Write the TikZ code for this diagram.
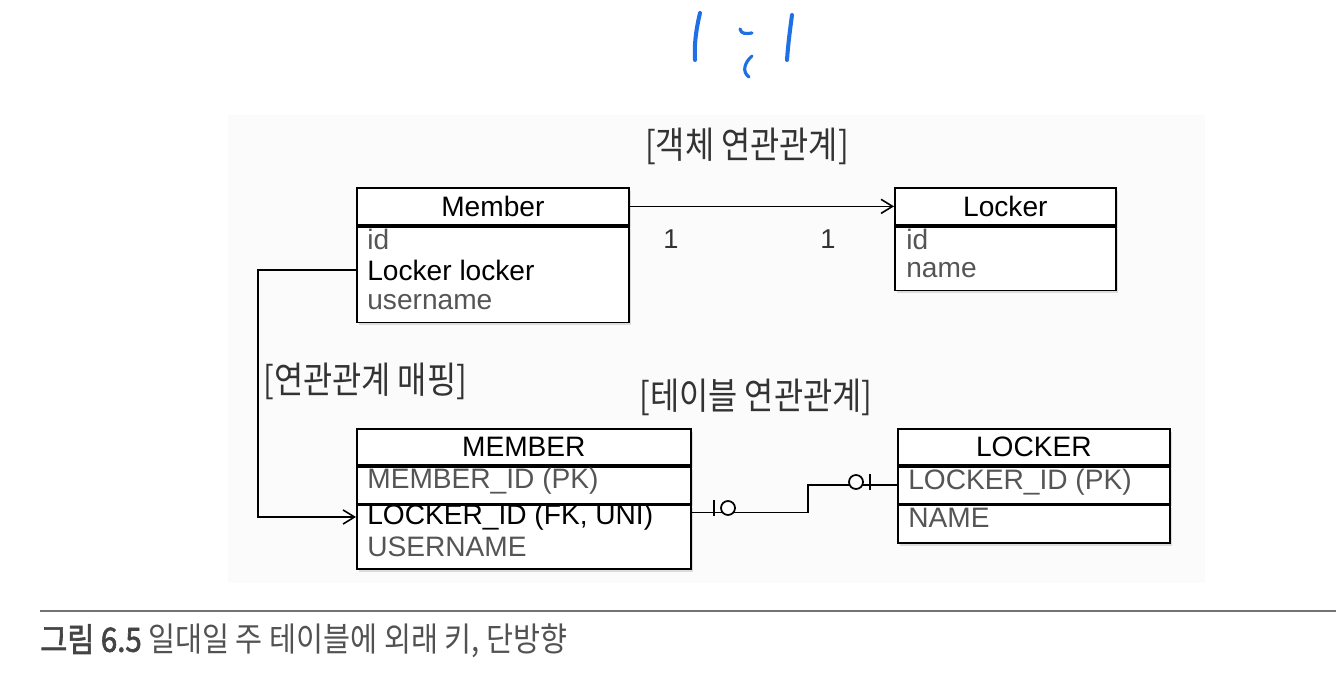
\documentclass[tikz,border=0pt]{standalone}
\usepackage{fontspec}
\setmainfont{Liberation Sans}
\newfontfamily\krfont[FakeStretch=0.86]{Noto Sans CJK KR}
\newfontfamily\krbold[FakeStretch=0.88,FakeBold=2]{Noto Sans CJK KR}
\newfontfamily\krcap[FakeStretch=0.88]{Noto Sans CJK KR}
\usetikzlibrary{arrows.meta,positioning,shadows}
\definecolor{rowgray}{HTML}{555555}
\definecolor{penblue}{HTML}{1F6FE5}
\definecolor{capgray}{HTML}{444444}

\begin{document}
\begin{tikzpicture}[x=0.02cm, y=-0.02cm,
  hdr/.style={rectangle, draw=black, line width=1pt, fill=white, minimum height=0.74cm,
    font=\fontsize{16}{18}\selectfont, inner sep=0pt},
  body/.style={rectangle, draw=black, line width=1pt, fill=white, inner sep=0pt},
  shade/.style={drop shadow={shadow xshift=1.2pt, shadow yshift=-1.6pt, opacity=0.25}},
  row/.style={anchor=west, font=\fontsize{16}{18}\selectfont, text=rowgray, inner sep=0pt},
  keyrow/.style={row, text=black},
  tag/.style={font=\krfont\fontsize{21}{23}\selectfont, text=black!80, inner sep=0pt},
  card/.style={font=\fontsize{15.5}{17}\selectfont, text=black!80, inner sep=0pt},
  arr/.style={-{Straight Barb[length=6.5pt, width=8pt]}, line width=0.9pt},
  link/.style={line width=1pt},
  pen/.style={penblue, line width=2.3pt, line cap=round}
]
\useasboundingbox (0,0) rectangle (1336,678);
\fill[black!1.5] (228,115) rectangle (1205,583);

% handwritten note
\draw[pen] (700,13) .. controls (696,30) and (694,45) .. (695,60);
\draw[pen, line width=1.8pt] (740,29) .. controls (741,34) and (746,34) .. (752,33);
\draw[pen, line width=1.8pt] (752,56) .. controls (744,63) and (742,72) .. (749,77);
\draw[pen] (792,15) .. controls (790,30) and (788,45) .. (787,60);

% object model
\node[tag] (objtag) at (747,146) {[객체 연관관계]};

\node[hdr, shade, minimum width=5.44cm, anchor=north west] (mem) at (356,187) {Member};
\node[body, shade, minimum width=5.44cm, minimum height=1.92cm, below=0pt of mem] (memb) {};
\node[row] (mid) at (367,239) {id};
\node[keyrow] (mlock) at (367,270) {Locker locker};
\node[row] (mname) at (367,302) {username};

\node[hdr, shade, minimum width=4.42cm, anchor=north west] (lock) at (894,187) {Locker};
\node[body, shade, minimum width=4.42cm, minimum height=1.28cm, below=0pt of lock] (lockb) {};
\node[row] (lid) at (906,239) {id};
\node[row] (lname) at (906,270) {name};

\draw[arr] (mem.east) -- (lock.west);
\node[card] (one1) at (671,239) {1};
\node[card] (one2) at (828,239) {1};

% mapping to tables
\node[tag, anchor=west] (maptag) at (263,381) {[연관관계 매핑]};
\node[tag] (tbltag) at (756,397) {[테이블 연관관계]};

\node[hdr, shade, minimum width=6.68cm, minimum height=0.72cm, anchor=north west] (MEM) at (356,428) {MEMBER};
\node[body, shade, minimum width=6.68cm, minimum height=0.74cm, below=0pt of MEM] (MEMpk) {};
\node[body, shade, minimum width=6.68cm, minimum height=1.28cm, below=0pt of MEMpk] (MEMb) {};
\node[row] (Mid) at (367,481) {MEMBER\_ID (PK)};
\node[keyrow] (Mlock) at (367,517) {LOCKER\_ID (FK, UNI)};
\node[row] (Mname) at (367,547) {USERNAME};

\node[hdr, shade, minimum width=5.44cm, minimum height=0.72cm, anchor=north west] (LOCK) at (897,428) {LOCKER};
\node[body, shade, minimum width=5.44cm, minimum height=0.74cm, below=0pt of LOCK] (LOCKpk) {};
\node[body, shade, minimum width=5.44cm, minimum height=0.76cm, below=0pt of LOCKpk] (LOCKb) {};
\node[row] (Lid) at (908,482) {LOCKER\_ID (PK)};
\node[row] (Lname) at (908,518) {NAME};

\coordinate (bend) at (258,270);
\draw[arr] (mlock -| memb.west) -- (bend) |- (Mlock -| MEMb.west);

% one-to-one foreign key
\draw[link] ([yshift=-0.16cm]MEMb.north east) -- ++(116,0) |- (LOCKpk.west);
\draw[link] (714,500) -- (714,516);
\draw[link, fill=white] (728,508) circle[radius=7];
\draw[link, fill=white] (856,482) circle[radius=7];
\draw[link] (870,474) -- (870,490);

% caption
\draw[black!55, line width=0.8pt] (40,611) -- (1336,611);
\node[anchor=west, inner sep=0pt, font=\fontsize{19}{21}\selectfont] (cap) at (40,641)
  {\textcolor{capgray}{\krbold 그림 6.5}\textcolor{black!68}{\krcap\ 일대일 주 테이블에 외래 키, 단방향}};
\end{tikzpicture}
\end{document}
